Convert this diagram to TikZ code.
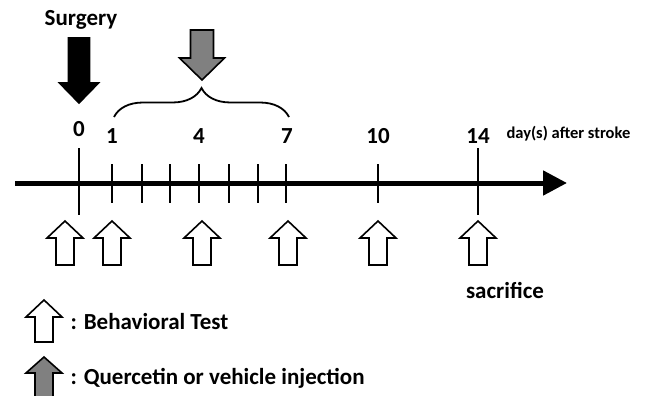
\documentclass[tikz,border=0pt]{standalone}
\usepackage{fontspec}
\setmainfont{Carlito}
\usetikzlibrary{arrows.meta, positioning, decorations.pathreplacing, calc}

\begin{document}
\begin{tikzpicture}[x=1pt, y=-1pt, font=\bfseries\fontsize{23}{27}\selectfont,
    pics/blockarrow/.style n args={5}{code={
        \draw[line width=1.6pt, fill=#5, line join=miter] (0,0) -- (#3,#2) -- (#4,#2) -- (#4,#1) -- (-#4,#1) -- (-#4,#2) -- (-#3,#2) -- cycle;}},
    pics/testarrow/.style={blockarrow={44}{17}{18}{9}{white}}]
            \useasboundingbox (0,0) rectangle (648,396);
            % Zeitachse
            \coordinate (start) at (15,183);
            \coordinate (end) at (567,183);
            \draw[line width=5pt, -{Triangle[length=24pt, width=24pt]}] (start) -- (end);
            % lange Striche (Tag 0 und 14)
            \foreach \x in {79,478}
                \draw[line width=1.8pt] (\x,148) -- (\x,215);
            % kurze Striche
            \foreach \x in {112,142,170,199,229,258,286,378}
                \draw[line width=1.8pt] (\x,164) -- (\x,203);
            % Tage
            \node (d0) at (79,129) {0};
            \node (d1) at (112,136) {1};
            \node (d4) at (199,136) {4};
            \node (d7) at (287,136) {7};
            \node (d10) at (378,136) {10};
            \node (d14) at (478,136) {14};
            \node[anchor=west, font=\bfseries\fontsize{16.5}{20}\selectfont] (unit) at (503,134) {day(s) after stroke};
            % Operation
            \node (surgery) at (81,20) {Surgery};
            \pic[rotate=180] (surg) at (79,103) {blockarrow={65}{20}{19.5}{10.5}{black}};
            % Injektion, Tag 1 bis 7
            \coordinate (b1) at (114,117);
            \coordinate (b7) at (289,117);
            \draw[decorate, decoration={brace, amplitude=29pt}, line width=1.8pt] (b1) -- (b7);
            \pic[rotate=180] (inj) at (202,80) {blockarrow={50}{22}{22.5}{11.5}{gray}};
            % Verhaltenstests
            \foreach \x/\n in {65/0,112/1,202/4,288/7,378/10,478/14}
                \pic (bt\n) at (\x,221) {testarrow};
            \node (sacrifice) at (505,290) {sacrifice};
            % Legende
            \pic (legbt) at (44,300) {blockarrow={42}{17}{18}{9}{white}};
            \node[anchor=west] (legtext1) at (67,322) {: Behavioral Test};
            \pic (leginj) at (44,357) {blockarrow={40}{16}{18}{9}{gray}};
            \node[anchor=west] (legtext2) at (67,378) {: Quercetin or vehicle injection};
        \end{tikzpicture}
\end{document}
